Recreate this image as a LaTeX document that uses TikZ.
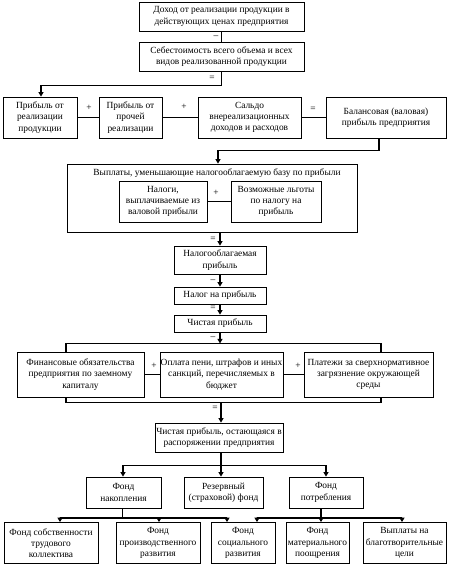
\documentclass[tikz,border=0pt]{standalone}
\usepackage{fontspec}
\setmainfont{Liberation Serif}
\usetikzlibrary{arrows.meta,calc}
\begin{document}
\begin{tikzpicture}[x=1pt,y=-1pt,
  box/.style={draw,line width=0.8pt,align=center,inner sep=0pt,font=\fontsize{9.4}{11.3}\selectfont},
  conn/.style={line width=1.3pt},
  arr/.style={conn,-{Triangle[length=4.5pt,width=5pt]}},
  sign/.style={font=\fontsize{9.4}{10}\selectfont,inner sep=0pt}]
\useasboundingbox (0,0) rectangle (450,570);
\fill[white] (0,0) rectangle (450,570);
% boxes
\node[box,minimum width=165,minimum height=29] (b1) at (221.5,16.5) {Доход от реализации продукции в\\действующих ценах предприятия};
\node[box,minimum width=165,minimum height=29] (b2) at (221.5,56.5) {Себестоимость всего объема и всех\\видов реализованной продукции};
\node[box,minimum width=74,minimum height=41] (A) at (40,117.5) {Прибыль от\\реализации\\продукции};
\node[box,minimum width=63,minimum height=41] (B) at (130.5,117.5) {Прибыль от\\прочей\\реализации};
\node[box,minimum width=103,minimum height=41] (C) at (249.5,117.5) {Сальдо\\внереализационных\\доходов и расходов};
\node[box,minimum width=120,minimum height=41] (D) at (386,117.5) {Балансовая (валовая)\\прибыль предприятия};
\node[box,minimum width=290,minimum height=68] (E) at (212,198) {};
\node[sign,font=\fontsize{9.4}{11.3}\selectfont] (Et) at (217,173) {Выплаты, уменьшающие налогооблагаемую базу по прибыли};
\node[box,minimum width=88,minimum height=41] (E1) at (163,201.5) {Налоги,\\выплачиваемые из\\валовой прибыли};
\node[box,minimum width=90,minimum height=41] (E2) at (276,201.5) {Возможные льготы\\по налогу на\\прибыль};
\node[box,minimum width=92,minimum height=28] (F) at (220,260) {Налогооблагаемая\\прибыль};
\node[box,minimum width=92,minimum height=17] (G) at (220,295.5) {Налог на прибыль};
\node[box,minimum width=92,minimum height=17] (H) at (220,323.5) {Чистая прибыль};
\node[box,minimum width=127,minimum height=45] (I) at (80.5,374.5) {Финансовые обязательства\\предприятия по заемному\\капиталу};
\node[box,minimum width=123,minimum height=45] (J) at (221.5,374.5) {Оплата пени, штрафов и иных\\санкций, перечисляемых в\\бюджет};
\node[box,minimum width=129,minimum height=45] (K) at (368.5,374.5) {Платежи за сверхнормативное\\загрязнение окружающей\\среды};
\node[box,minimum width=128,minimum height=29] (L) at (219,437.5) {Чистая прибыль, остающаяся в\\распоряжении предприятия};
\node[box,minimum width=75,minimum height=31] (M) at (123.5,492.5) {Фонд\\накопления};
\node[box,minimum width=79,minimum height=31] (N) at (223.5,492.5) {Резервный\\(страховой) фонд};
\node[box,minimum width=74,minimum height=31] (O) at (326,492.5) {Фонд\\потребления};
\node[box,minimum width=94,minimum height=41] (P) at (51,543) {Фонд собственности\\трудового\\коллектива};
\node[box,minimum width=84,minimum height=41] (Q) at (158,543) {Фонд\\производственного\\развития};
\node[box,minimum width=64,minimum height=41] (R) at (243,543) {Фонд\\социального\\развития};
\node[box,minimum width=63,minimum height=41] (S) at (317.5,543) {Фонд\\материального\\поощрения};
\node[box,minimum width=83,minimum height=41] (T) at (404.5,543) {Выплаты на\\благотворительные\\цели};
% connectors
\draw[conn] (b1.south) -- (b2.north);
\draw[arr] (b2.south) -- ++(0,14) -| ([xshift=1]A.north);
\draw[conn] (A.east) -- (B.west);
\draw[conn] (B.east) -- (C.west);
\draw[conn] (C.east) -- (D.west);
\draw[arr] ([xshift=-7]D.south) -- ++(0,12) -| ([xshift=6]E.north);
\draw[conn] (E1.east) -- (E2.west);
\draw[arr] (E.south -| F.north) -- (F.north);
\draw[arr] (F.south) -- (G.north);
\draw[arr] (G.south) -- (H.north);
\coordinate (topbar) at ($(H.south)+(0,11)$);
\draw[conn] ([xshift=-14.5]I.north) |- ([xshift=12.5]K.north |- topbar) -- ([xshift=12.5]K.north);
\draw[arr] (H.south) -- (topbar);
\draw[conn] (I.east) -- (J.west);
\draw[conn] (J.east) -- (K.west);
\coordinate (botbar) at ($(I.south)+(0,5)$);
\draw[conn] ([xshift=-14.5]I.south) |- ([xshift=12.5]K.south |- botbar) -- ([xshift=12.5]K.south);
\draw[arr] ([xshift=2]L.north |- botbar) -- ([xshift=2]L.north);
\draw[conn] ([xshift=2]L.south) -- ++(0,13) coordinate (lb);
\draw[arr] (lb) -| ([xshift=-0.5]M.north);
\draw[arr] (lb) -| (O.north);
\draw[arr] (lb) -- (lb |- N.north);
\draw[conn] ([xshift=-1]M.south) -- ++(0,9.5) coordinate (mb);
\draw[arr] (mb) -| ([xshift=9]P.north);
\draw[arr] (mb) -| ([xshift=1]Q.north);
\draw[arr] (mb) -| ([xshift=-16]R.north);
\draw[conn] ([xshift=-5]O.south) -- ++(0,9.5) coordinate (ob);
\draw[arr] (ob) -| ([xshift=14]R.north);
\draw[arr] (ob) -- (ob |- S.north);
\draw[arr] (ob) -| ([xshift=-2.5]T.north);
% signs
\node[sign] at (216,37) {–};
\node[sign] at (212,78) {=};
\node[sign] at (89,108) {+};
\node[sign] at (184,107) {+};
\node[sign] at (313,109) {=};
\node[sign] at (216,193) {+};
\node[sign] at (213,239) {=};
\node[sign] at (213,281) {–};
\node[sign] at (213,308) {=};
\node[sign] at (213,338) {–};
\node[sign] at (154,366) {+};
\node[sign] at (298,366) {+};
\node[sign] at (215,408) {=};
\end{tikzpicture}
\end{document}
